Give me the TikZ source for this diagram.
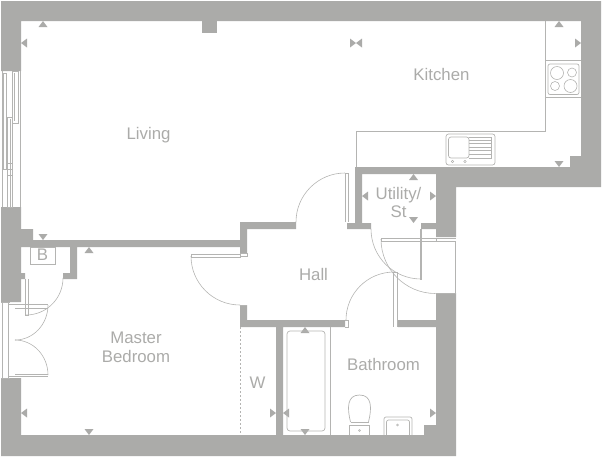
\documentclass[tikz,border=0pt]{standalone}
\usepackage{fontspec}
\setmainfont{Liberation Sans}
\definecolor{wallgrey}{HTML}{ABABA9}
\definecolor{linegrey}{HTML}{B4B4B2}
\begin{document}
\begin{tikzpicture}[x=1pt,y=-1pt]
  \tikzstyle{wall}=[fill=wallgrey,draw=none]
  \tikzstyle{fitting}=[draw=linegrey,line width=0.7pt]
  \tikzstyle{doorswing}=[draw=linegrey,line width=0.6pt]
  \tikzstyle{label}=[text=wallgrey,align=center,font=\fontsize{16.8}{18.6}\selectfont,inner sep=0pt]
  \useasboundingbox (0,0) rectangle (602,456);
  \fill[wall] (1,1) -- (601,1) -- (601,187) -- (456,187) -- (456,237) -- (436,237) -- (436,229) -- (421,229)
    -- (421,223) -- (436,223) -- (436,174) -- (362,174) -- (362,223) -- (371,223) -- (371,229) -- (347,229)
    -- (347,223) -- (355,223) -- (355,167) -- (570,167) -- (570,156) -- (581,156) -- (581,21) -- (21,21)
    -- (21,71) -- (1,71) -- cycle;
  \fill[wall] (202,21) rectangle (217,33);
  \fill[wall] (1,207) -- (21,207) -- (21,229) -- (33,229) -- (33,240) -- (240,240) -- (240,222) -- (296,222)
    -- (296,229) -- (247,229) -- (247,253) -- (240,253) -- (240,247) -- (77,247) -- (77,279) -- (63,279)
    -- (63,273) -- (70,273) -- (70,247) -- (21,247) -- (21,273) -- (25,273) -- (25,279) -- (21,279)
    -- (21,302) -- (1,302) -- cycle;
  \fill[wall] (1,378) -- (21,378) -- (21,435) -- (276,435) -- (276,327) -- (240,327) -- (240,305) -- (247,305)
    -- (247,320) -- (345,320) -- (345,327) -- (283,327) -- (283,435) -- (424,435) -- (424,425) -- (436,425)
    -- (436,327) -- (398,327) -- (398,320) -- (436,320) -- (436,293) -- (456,293) -- (456,456) -- (1,456) -- cycle;
  \foreach \x/\y in {43/21,89/247,559/21,413.5/174,305/327}
    \fill[wall] (\x,\y) -- ++(-4.5,6) -- ++(9,0) -- cycle;
  \foreach \x/\y in {43/240,89/435,559/167,413.5/223,305/435}
    \fill[wall] (\x,\y) -- ++(-4.5,-6) -- ++(9,0) -- cycle;
  \foreach \x/\y in {21/43,21/413,283/413,362/196,356/43}
    \fill[wall] (\x,\y) -- ++(6,-4.5) -- ++(0,9) -- cycle;
  \foreach \x/\y in {581/43,276/413,436/413,436/196,356/43}
    \fill[wall] (\x,\y) -- ++(-6,-4.5) -- ++(0,9) -- cycle;
  \draw[fitting] (2,71) -- (2,207) (20.5,71) -- (20.5,207);
  \draw[fitting] (3.5,73) rectangle (6,169) (7.5,117) rectangle (12.5,207) (12.5,71) rectangle (18.5,123);
  \draw[fitting] (14.5,73) -- (14.5,121) (10,119) -- (10,207) (7.5,163) -- (12.5,163) (7.5,169) -- (12.5,169) (7.5,175) -- (12.5,175);
  \draw[fitting] (2,302) -- (2,378) (8.5,302) -- (8.5,378) (1,302) -- (10,302) (1,378) -- (10,378);
  \draw[fitting] (9,304) -- (48,304) (15,308) -- (48,308) (15,374) -- (48,374) (9,376) -- (48,376);
  \draw[fitting] (25.5,279) -- (25.5,315) -- (28,315) -- (28,279);
  \draw[fitting] (30,247) rectangle (55,264);
  \draw[doorswing] (63,278) arc[start angle=0,end angle=-90,radius=37pt];
  \draw[doorswing] (48,305) arc[start angle=0,end angle=-90,x radius=33pt,y radius=35pt];
  \draw[doorswing] (48,375) arc[start angle=0,end angle=90,x radius=33pt,y radius=35pt];
  \draw[fitting] (191,254) rectangle (240,257) (240,253) rectangle (247,256);
  \draw[doorswing] (191,256) arc[start angle=180,end angle=270,radius=49pt];
  \draw[fitting] (240,305) -- (247,305);
  \draw[fitting] (345,173) -- (345,222) (345,173) -- (348,173) -- (348,222);
  \draw[doorswing] (345,173) arc[start angle=90,end angle=180,radius=49pt];
  \draw[fitting] (420,229) -- (420,279) -- (421.5,279) -- (421.5,229);
  \draw[doorswing] (371,229) arc[start angle=180,end angle=270,radius=50pt];
  \draw[fitting] (381,238) rectangle (436,241) (436,238) -- (456,238) (436,241) -- (456,241) (455.5,241) -- (455.5,293) (436,293) -- (456,293);
  \draw[doorswing] (381,239) arc[start angle=180,end angle=270,radius=54.5pt];
  \draw[fitting] (393.5,272) -- (393.5,327) (397,272) -- (397,327) (393.5,272) -- (397,272) (345,320) -- (348,320) -- (348,327) -- (345,327);
  \draw[doorswing] (346,320) arc[start angle=180,end angle=90,radius=48pt];
  \draw[fitting] (356,167) -- (356,131) -- (545,131) -- (545,21);
  \draw[fitting] (545,60.5) -- (581,60.5) (545,97) -- (581,97);
  \draw[fitting,rounded corners=2pt] (548,64) rectangle (579,94.5);
  \draw[doorswing] (557,73) circle[radius=6.5pt] (572,72.5) circle[radius=4.5pt] (555,86) circle[radius=4.5pt] (570.5,86) circle[radius=6.5pt];
  \draw[fitting,rounded corners=2.5pt] (446,134) rectangle (495,165) (448.5,137) rectangle (469,158);
  \draw[fitting] (469,137) -- (491.5,137) -- (491.5,158) -- (469,158);
  \foreach \y in {140,143.5,147,150.5,154}
    \draw[fitting] (469,\y) -- (491.5,\y);
  \draw[doorswing] (452.5,161.5) circle[radius=1.3pt] (465,161.5) circle[radius=1.3pt];
  \draw[fitting,dashed,dash pattern=on 2pt off 2pt] (240.5,327) -- (240.5,435);
  \draw[fitting] (330,327) -- (330,435);
  \draw[fitting,rounded corners=3pt] (287,331) rectangle (325,431);
  \draw[fitting] (349.5,435) -- (349.5,425) -- (369.5,425) -- (369.5,435);
  \draw[fitting] (350.5,422) -- (368.5,422);
  \draw[fitting] (350.5,422) .. controls (347,408) and (347,395) .. (359.5,395) .. controls (372,395) and (372,408) .. (368.5,422);
  \draw[doorswing] (359.5,430.5) circle[radius=1pt] (397.5,425) circle[radius=1pt];
  \draw[fitting,rounded corners=2pt] (384,435) -- (384,417) -- (412,417) -- (412,435);
  \draw[fitting,rounded corners=2pt] (386.5,435) -- (386.5,420) -- (409.5,420) -- (409.5,435);
  \node[label] (living) at (148.5,135) {Living};
  \node[label] (kitchen) at (441.5,74.5) {Kitchen};
  \node[label] (utility) at (398.5,202.5) {Utility/\\St};
  \node[label] (hall) at (313.5,274.5) {Hall};
  \node[label] (bedroom) at (136,347) {Master\\Bedroom};
  \node[label] (wardrobe) at (257.5,382.5) {W};
  \node[label] (bathroom) at (383.5,364.5) {Bathroom};
  \node[label] (boiler) at (42.5,255) {B};
\end{tikzpicture}
\end{document}
